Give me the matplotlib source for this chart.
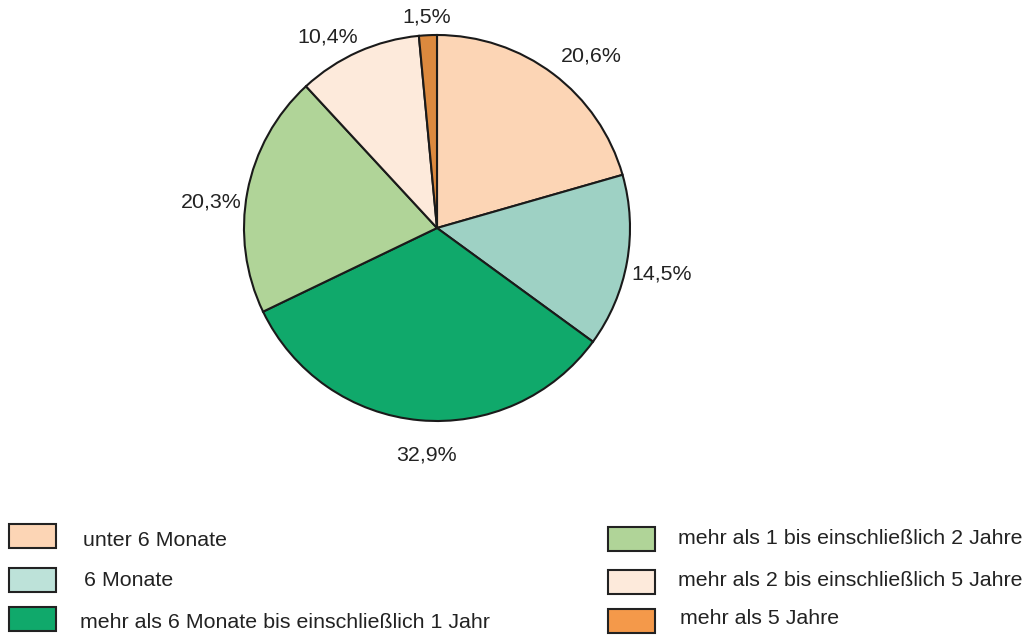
import numpy as np
import matplotlib.pyplot as plt
from matplotlib.patches import Rectangle

plt.rcParams['font.family'] = ['Liberation Sans', 'DejaVu Sans']

categories = ['unter 6 Monate', '6 Monate',
              'mehr als 6 Monate bis einschließlich 1 Jahr',
              'mehr als 1 bis einschließlich 2 Jahre',
              'mehr als 2 bis einschließlich 5 Jahre',
              'mehr als 5 Jahre']
shares = [20.6, 14.5, 32.9, 20.3, 10.4, 1.5]
pie_colors = ['#fcd5b5', '#9ed1c4', '#10a96b', '#b0d498', '#fdeadb', '#dc893e']
legend_colors = ['#fcd5b5', '#bde2d9', '#10a96b', '#b0d498', '#fdeadb', '#f4994a']

# label placement tweaks (radius factor, angle nudge in degrees)
label_dist = [1.20, 1.186, 1.178, 1.175, 1.139, 1.094]
label_nudge = [-4.9, -1.6, 2.6, 4.2, 5.7, 0.0]

W, H = 1028, 639
fig = plt.figure(figsize=(W / 100, H / 100), dpi=100)
ax = fig.add_axes([244 / W, 1 - 421 / H, 386 / W, 386 / H])

wedges, _ = ax.pie(shares, colors=pie_colors, startangle=90, counterclock=False,
                   wedgeprops=dict(edgecolor='#1a1a1a', linewidth=1.5))
for w, s, d, n in zip(wedges, shares, label_dist, label_nudge):
    a = np.deg2rad((w.theta1 + w.theta2) / 2 + n)
    ax.text(d * np.cos(a), d * np.sin(a), ('%.1f%%' % s).replace('.', ','),
            fontsize=15.4, color='#222222', ha='center', va='center')
ax.set_xlim(-1, 1)
ax.set_ylim(-1, 1)
ax.set_aspect('equal')

# legend, two columns of three
rows = [(9, 536, 83, 540), (9, 580, 84, 580), (9, 619, 80, 623),
        (608, 539, 678, 538), (608, 582, 678, 580), (608, 621, 680, 619)]
for (bx, by, tx, ty), lab, c in zip(rows, categories, legend_colors):
    fig.add_artist(Rectangle((bx / W, 1 - (by + 12) / H), 47 / W, 24 / H,
                             transform=fig.transFigure, facecolor=c,
                             edgecolor='#222222', linewidth=1.5))
    fig.text(tx / W, 1 - ty / H, lab, fontsize=15.4, color='#222222',
             ha='left', va='center')

plt.savefig('out.png', dpi=100)
